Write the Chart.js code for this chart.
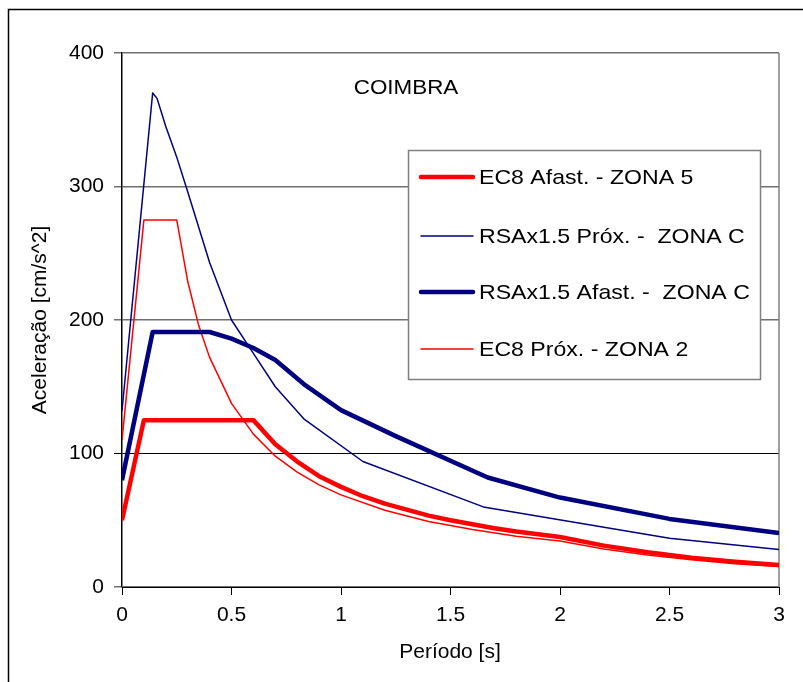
<!DOCTYPE html>
<html>
<head>
<meta charset="utf-8">
<script src="https://cdn.jsdelivr.net/npm/chart.js@4.4.0/dist/chart.umd.min.js"></script>
<style>
  html, body { margin: 0; padding: 0; background: #fff; }
  #wrap { width: 803px; height: 682px; position: relative; }
</style>
</head>
<body>
<div id="wrap"><canvas id="chart" width="803" height="682"></canvas></div>
<script>
// EC8 Afast. - ZONA 5 (thick red)
const periodEC8Afast = [0, 0.1, 0.2, 0.3, 0.4, 0.5, 0.6, 0.7, 0.8, 0.9, 1.0, 1.1, 1.2, 1.3, 1.4, 1.5, 1.6, 1.7, 1.8, 1.9, 2.0, 2.2, 2.4, 2.6, 2.8, 3.0];
const accelEC8Afast  = [50, 125, 125, 125, 125, 125, 125, 107, 94, 83, 75, 68, 62.5, 58, 53.5, 50, 47, 44, 41.5, 39.5, 37.5, 31, 26, 22, 19, 16.5];

// RSAx1.5 Próx. - ZONA C (thin navy)
const periodRSAProx = [0, 0.14, 0.16, 0.2, 0.25, 0.3, 0.4, 0.5, 0.6, 0.7, 0.83, 1.1, 1.65, 2.5, 3.0];
const accelRSAProx  = [132, 370, 366, 345, 322, 296, 243, 200, 175, 150, 126, 94, 60, 36.5, 28];

// RSAx1.5 Afast. - ZONA C (thick navy)
const periodRSAAfast = [0, 0.14, 0.4, 0.5, 0.6, 0.7, 0.83, 1.0, 1.25, 1.67, 2.0, 2.5, 3.0];
const accelRSAAfast  = [80, 191, 191, 186, 179, 170, 152, 132.5, 113, 82, 67, 51, 40.5];

// EC8 Próx. - ZONA 2 (thin red)
const periodEC8Prox = [0, 0.1, 0.25, 0.3, 0.35, 0.4, 0.5, 0.6, 0.7, 0.8, 0.9, 1.0, 1.2, 1.4, 1.6, 1.8, 2.0, 2.2, 2.4, 2.6, 2.8, 3.0];
const accelEC8Prox  = [110, 275, 275, 229, 196, 172, 137.5, 114.5, 98, 86, 76.5, 69, 57.5, 49, 43, 38, 34.5, 28.5, 24, 20.5, 17.5, 15.3];

const yTicks = [0, 100, 200, 300, 400];
const xTicks = [0, 0.5, 1, 1.5, 2, 2.5, 3];

const seriesNames = ['EC8 Afast. - ZONA 5', 'RSAx1.5 Próx. -  ZONA C', 'RSAx1.5 Afast. -  ZONA C', 'EC8 Próx. - ZONA 2'];
const seriesColors = ['#ff0000', '#000080', '#000080', '#ff0000'];
const seriesWidths = [4.5, 1.5, 4.5, 1.5];

const toPoints = (xs, ys) => xs.map((x, i) => ({ x: x, y: ys[i] }));
const seriesData = [
    toPoints(periodEC8Afast, accelEC8Afast),
    toPoints(periodRSAProx, accelRSAProx),
    toPoints(periodRSAAfast, accelRSAAfast),
    toPoints(periodEC8Prox, accelEC8Prox)
];

const FONT = '"Liberation Sans", Arial, sans-serif';

const decorations = {
    id: 'decorations',
    beforeDatasetsDraw(chart) {
        const { ctx, chartArea } = chart;
        ctx.save();
        // right edge of the plot area
        ctx.strokeStyle = '#808080';
        ctx.lineWidth = 1.5;
        ctx.beginPath();
        ctx.moveTo(chartArea.right, chartArea.top);
        ctx.lineTo(chartArea.right, chartArea.bottom);
        ctx.stroke();
        ctx.restore();
    },
    afterDatasetsDraw(chart) {
        const { ctx } = chart;
        ctx.save();

        // legend box
        ctx.fillStyle = '#fff';
        ctx.fillRect(408, 150, 352, 229);
        ctx.strokeStyle = '#808080';
        ctx.lineWidth = 1.5;
        ctx.strokeRect(408.5, 150.5, 352, 229);

        const rows = [177, 236, 292, 349];
        ctx.font = '21px ' + FONT;
        ctx.textBaseline = 'middle';
        ctx.textAlign = 'left';
        rows.forEach((y, i) => {
            ctx.strokeStyle = seriesColors[i];
            ctx.lineWidth = seriesWidths[i];
            ctx.lineCap = 'round';
            ctx.beginPath();
            ctx.moveTo(421, y);
            ctx.lineTo(473, y);
            ctx.stroke();
            ctx.fillStyle = '#000';
            ctx.save();
            ctx.translate(479, y + 1);
            ctx.scale(1.1, 1);
            ctx.fillText(seriesNames[i], 0, 0);
            ctx.restore();
        });

        // title inside the plot
        ctx.save();
        ctx.translate(406, 88);
        ctx.scale(1.12, 1);
        ctx.textAlign = 'center';
        ctx.fillStyle = '#000';
        ctx.font = '20px ' + FONT;
        ctx.fillText('COIMBRA', 0, 0);
        ctx.restore();

        // axis titles
        ctx.fillStyle = '#000';
        ctx.textAlign = 'center';
        ctx.font = '21px ' + FONT;
        ctx.fillText('Período [s]', 450, 652);
        ctx.save();
        ctx.translate(40, 320);
        ctx.rotate(-Math.PI / 2);
        ctx.fillText('Aceleração [cm/s^2]', 0, 0);
        ctx.restore();

        // outer frame
        ctx.strokeStyle = '#000';
        ctx.lineWidth = 1.5;
        ctx.beginPath();
        ctx.moveTo(8.5, 690);
        ctx.lineTo(8.5, 9.5);
        ctx.lineTo(810, 9.5);
        ctx.stroke();

        ctx.restore();
    }
};

new Chart(document.getElementById('chart').getContext('2d'), {
    type: 'scatter',
    data: {
        datasets: seriesData.map((d, i) => ({
            label: seriesNames[i],
            data: d,
            showLine: true,
            borderColor: seriesColors[i],
            backgroundColor: seriesColors[i],
            borderWidth: seriesWidths[i],
            pointRadius: 0,
            pointHoverRadius: 0,
            tension: 0,
            borderJoinStyle: 'round'
        }))
    },
    options: {
        responsive: false,
        animation: false,
        events: [],
        layout: { padding: { left: 0, top: 53, right: 24, bottom: 0 } },
        plugins: {
            legend: { display: false },
            tooltip: { enabled: false },
            title: { display: false }
        },
        scales: {
            x: {
                type: 'linear',
                min: 0,
                max: 3,
                afterFit: s => { s.height = 95; },
                afterBuildTicks: s => { s.ticks = xTicks.map(v => ({ value: v })); },
                ticks: {
                    color: '#000',
                    padding: 8,
                    font: { family: FONT, size: 21 },
                    maxRotation: 0,
                    callback: v => String(v)
                },
                grid: { drawOnChartArea: false, drawTicks: true, tickLength: 8, color: '#000' },
                border: { display: true, color: '#000', width: 1 }
            },
            y: {
                min: 0,
                max: 400,
                afterFit: s => { s.width = 122; },
                afterBuildTicks: s => { s.ticks = yTicks.map(v => ({ value: v })); },
                ticks: {
                    color: '#000',
                    padding: 10,
                    font: { family: FONT, size: 21 }
                },
                grid: {
                    drawTicks: true,
                    tickLength: 8,
                    color: c => (c.tick && c.tick.value === 100) ? '#000' : '#707070',
                    lineWidth: c => (c.tick && c.tick.value === 100) ? 1 : 1.5
                },
                border: { display: true, color: '#000', width: 1.5 }
            }
        }
    },
    plugins: [decorations]
});
</script>
</body>
</html>
